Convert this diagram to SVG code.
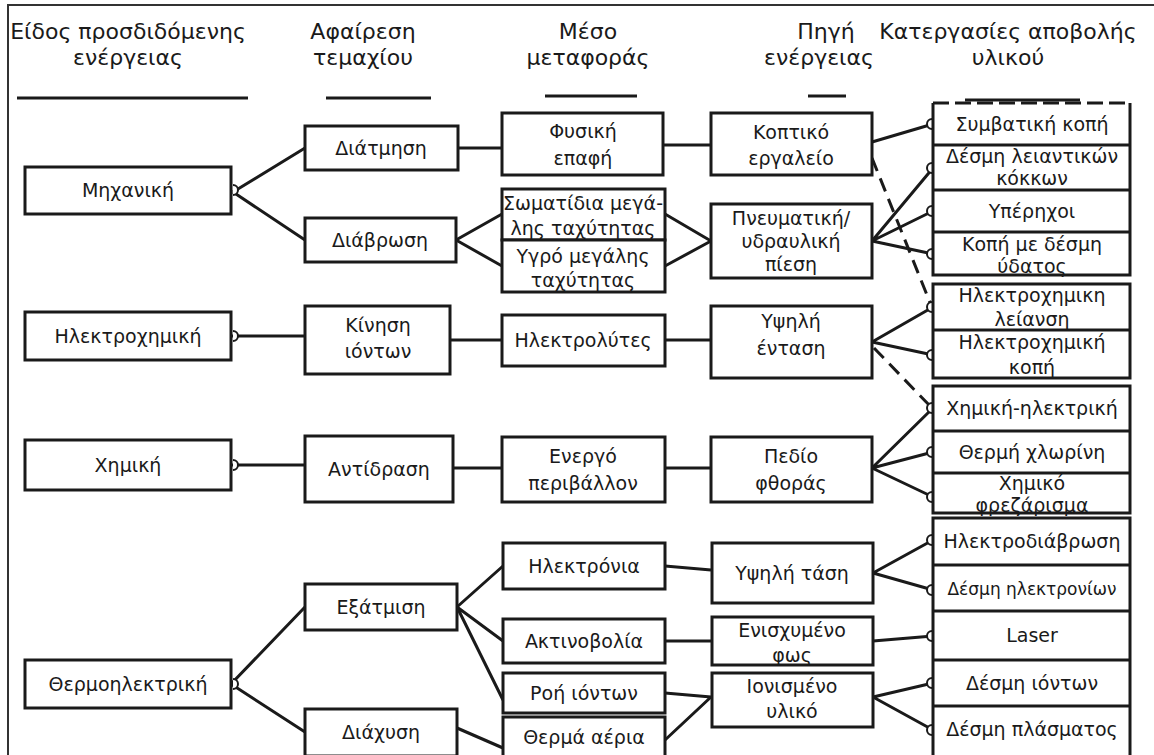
<svg xmlns="http://www.w3.org/2000/svg" width="1154" height="755" viewBox="0 0 1154 755">
<defs>
<style>
.box{fill:#fff;stroke:#1a1a1a;stroke-width:3}
.t{font-family:"DejaVu Sans","Liberation Sans",sans-serif;font-size:19px;fill:#1a1a1a;text-anchor:middle}
.h{font-family:"DejaVu Sans","Liberation Sans",sans-serif;font-size:22px;fill:#1a1a1a;text-anchor:middle}
.c{fill:none;stroke:#1a1a1a;stroke-width:3}
.d{fill:none;stroke:#1a1a1a;stroke-width:3;stroke-dasharray:14 8}
.ul{stroke:#1a1a1a;stroke-width:3}
.cup{fill:#fff;stroke:#1a1a1a;stroke-width:2}
</style>
<path id="cupL" class="cup" d="M0,-5 A5,5 0 0 0 0,5"/>
<path id="cupR" class="cup" d="M0,-5 A5,5 0 0 1 0,5"/>
</defs>
<rect width="1154" height="755" fill="#fff"/>
<g id="frame"><path d="M8,755 V5 H1154" fill="none" stroke="#333" stroke-width="2"/></g>

<g id="headers">
<text class="h" x="128" y="39">Είδος προσδιδόμενης</text>
<text class="h" x="128" y="65">ενέργειας</text>
<line class="ul" x1="17" y1="98" x2="248" y2="98"/>
<text class="h" x="363" y="39">Αφαίρεση</text>
<text class="h" x="363" y="65">τεμαχίου</text>
<line class="ul" x1="326" y1="98" x2="431" y2="98"/>
<text class="h" x="588" y="39">Μέσο</text>
<text class="h" x="588" y="65">μεταφοράς</text>
<line class="ul" x1="545" y1="96" x2="637" y2="96"/>
<text class="h" x="826" y="39">Πηγή</text>
<text class="h" x="819" y="65">ενέργειας</text>
<line class="ul" x1="808" y1="96" x2="846" y2="96"/>
<text class="h" x="1008" y="39">Κατεργασίες αποβολής</text>
<text class="h" x="1008" y="65">υλικού</text>
<line class="ul" x1="965" y1="100" x2="1080" y2="100"/>
</g>

<g id="connectors">
<path class="c" d="M233,192 L305,148 M233,192 L305,240"/>
<path class="c" d="M458,148 L502,148"/>
<path class="c" d="M456,240 L502,214 M456,240 L502,266"/>
<path class="c" d="M663,145 L711,145"/>
<path class="c" d="M665,214 L711,241 M665,266 L711,241"/>
<path class="c" d="M872,142 L933,124"/>
<path class="c" d="M872,241 L933,168 M872,241 L933,211 M872,241 L933,254"/>
<path class="d" d="M872,158 L931,305"/>
<path class="c" d="M231,336 L305,336"/>
<path class="c" d="M450,340 L502,340"/>
<path class="c" d="M665,340 L711,340"/>
<path class="c" d="M872,342 L933,307 M872,342 L933,355"/>
<path class="d" d="M874,348 L931,407"/>
<path class="c" d="M231,465 L305,465"/>
<path class="c" d="M453,468 L502,468"/>
<path class="c" d="M665,468 L711,468"/>
<path class="c" d="M872,468 L933,408 M872,468 L933,452 M872,468 L933,497"/>
<path class="c" d="M231,684 L305,607 M231,684 L305,732"/>
<path class="c" d="M457,607 L503,566 M457,607 L503,641 M457,607 L503,700"/>
<path class="c" d="M457,728 L503,748"/>
<path class="c" d="M665,566 L711,570"/>
<path class="c" d="M665,641 L711,641"/>
<path class="c" d="M665,693 L711,697 M665,740 L711,697"/>
<path class="c" d="M873,573 L933,540 M873,573 L933,590"/>
<path class="c" d="M873,641 L933,636"/>
<path class="c" d="M873,697 L933,683 M873,697 L933,730"/>
<use href="#cupR" x="233" y="190"/>
<use href="#cupR" x="233" y="336"/>
<use href="#cupR" x="233" y="465"/>
<use href="#cupR" x="233" y="684"/>
<use href="#cupL" x="932" y="124"/>
<use href="#cupL" x="932" y="168"/>
<use href="#cupL" x="932" y="211"/>
<use href="#cupL" x="932" y="254"/>
<use href="#cupL" x="932" y="307"/>
<use href="#cupL" x="932" y="355"/>
<use href="#cupL" x="932" y="408"/>
<use href="#cupL" x="932" y="452"/>
<use href="#cupL" x="932" y="497"/>
<use href="#cupL" x="932" y="540"/>
<use href="#cupL" x="932" y="590"/>
<use href="#cupL" x="932" y="636"/>
<use href="#cupL" x="932" y="683"/>
<use href="#cupL" x="932" y="730"/>
</g>

<g id="n-mixaniki"><rect class="box" x="25" y="167" width="206" height="47"/><text class="t" x="128" y="197">Μηχανική</text></g>
<g id="n-ilektroximiki"><rect class="box" x="25" y="312" width="206" height="48"/><text class="t" x="128" y="343">Ηλεκτροχημική</text></g>
<g id="n-ximiki"><rect class="box" x="25" y="440" width="206" height="50"/><text class="t" x="128" y="472">Χημική</text></g>
<g id="n-thermo"><rect class="box" x="25" y="660" width="206" height="48"/><text class="t" x="128" y="691">Θερμοηλεκτρική</text></g>

<g id="n-diatmisi"><rect class="box" x="305" y="126" width="153" height="44"/><text class="t" x="381" y="155">Διάτμηση</text></g>
<g id="n-diavrosi"><rect class="box" x="305" y="218" width="151" height="44"/><text class="t" x="380" y="247">Διάβρωση</text></g>
<g id="n-kinisi"><rect class="box" x="305" y="306" width="145" height="68"/><text class="t" x="378" y="332">Κίνηση</text><text class="t" x="378" y="358">ιόντων</text></g>
<g id="n-antidrasi"><rect class="box" x="305" y="436" width="148" height="66"/><text class="t" x="379" y="476">Αντίδραση</text></g>
<g id="n-exatmisi"><rect class="box" x="305" y="584" width="152" height="46"/><text class="t" x="381" y="614">Εξάτμιση</text></g>
<g id="n-diaxysi"><rect class="box" x="305" y="709" width="152" height="47"/><text class="t" x="381" y="739">Διάχυση</text></g>

<g id="n-fysiki"><rect class="box" x="502" y="113" width="161" height="62"/><text class="t" x="583" y="138">Φυσική</text><text class="t" x="583" y="165">επαφή</text></g>
<g id="n-somatidia"><rect class="box" x="502" y="189" width="163" height="51"/><text class="t" x="583" y="210">Σωματίδια μεγά-</text><text class="t" x="583" y="235">λης ταχύτητας</text></g>
<g id="n-ygro"><rect class="box" x="502" y="240" width="163" height="52"/><text class="t" x="583" y="263">Υγρό μεγάλης</text><text class="t" x="583" y="287">ταχύτητας</text></g>
<g id="n-ilektrolytes"><rect class="box" x="502" y="315" width="163" height="51"/><text class="t" x="583" y="347">Ηλεκτρολύτες</text></g>
<g id="n-energo"><rect class="box" x="502" y="437" width="163" height="65"/><text class="t" x="583" y="463">Ενεργό</text><text class="t" x="583" y="490">περιβάλλον</text></g>
<g id="n-ilektronia"><rect class="box" x="503" y="543" width="162" height="46"/><text class="t" x="584" y="573">Ηλεκτρόνια</text></g>
<g id="n-aktinovolia"><rect class="box" x="503" y="619" width="162" height="44"/><text class="t" x="584" y="648">Ακτινοβολία</text></g>
<g id="n-roi"><rect class="box" x="503" y="673" width="162" height="40"/><text class="t" x="584" y="700">Ροή ιόντων</text></g>
<g id="n-therma"><rect class="box" x="503" y="717" width="162" height="41"/><text class="t" x="584" y="744">Θερμά αέρια</text></g>

<g id="n-koptiko"><rect class="box" x="711" y="113" width="161" height="62"/><text class="t" x="791" y="139">Κοπτικό</text><text class="t" x="791" y="165">εργαλείο</text></g>
<g id="n-pneumatiki"><rect class="box" x="711" y="204" width="161" height="74"/><text class="t" x="791" y="225">Πνευματική/</text><text class="t" x="791" y="248">υδραυλική</text><text class="t" x="791" y="271">πίεση</text></g>
<g id="n-entasi"><rect class="box" x="711" y="306" width="161" height="72"/><text class="t" x="791" y="328">Υψηλή</text><text class="t" x="791" y="355">ένταση</text></g>
<g id="n-pedio"><rect class="box" x="711" y="437" width="161" height="65"/><text class="t" x="791" y="463">Πεδίο</text><text class="t" x="791" y="490">φθοράς</text></g>
<g id="n-tasi"><rect class="box" x="712" y="543" width="161" height="60"/><text class="t" x="792" y="580">Υψηλή τάση</text></g>
<g id="n-fos"><rect class="box" x="712" y="617" width="161" height="48"/><text class="t" x="792" y="637">Ενισχυμένο</text><text class="t" x="792" y="662">φως</text></g>
<g id="n-ionismeno"><rect class="box" x="712" y="673" width="161" height="54"/><text class="t" x="792" y="693">Ιονισμένο</text><text class="t" x="792" y="718">υλικό</text></g>

<g id="group-mech">
<path d="M933,103 H1130" fill="none" stroke="#1a1a1a" stroke-width="3" stroke-dasharray="16 6"/>
<path d="M933,103 V275 H1130 V103" fill="none" stroke="#1a1a1a" stroke-width="3"/>
<g id="n-symvatiki"><path class="c" d="M933,145 H1130"/><text class="t" x="1032" y="131">Συμβατική κοπή</text></g>
<g id="n-leiantikon"><path class="c" d="M933,190 H1130"/><text class="t" x="1032" y="163">Δέσμη λειαντικών</text><text class="t" x="1032" y="185">κόκκων</text></g>
<g id="n-yperixoi"><path class="c" d="M933,232 H1130"/><text class="t" x="1032" y="218">Υπέρηχοι</text></g>
<g id="n-ydatos"><text class="t" x="1032" y="251">Κοπή με δέσμη</text><text class="t" x="1032" y="273">ύδατος</text></g>
</g>

<g id="group-ec">
<rect class="box" x="933" y="284" width="197" height="94"/>
<g id="n-leiansi"><path class="c" d="M933,330 H1130"/><text class="t" x="1032" y="302">Ηλεκτροχημικη</text><text class="t" x="1032" y="326">λείανση</text></g>
<g id="n-ec-kopi"><text class="t" x="1032" y="349">Ηλεκτροχημική</text><text class="t" x="1032" y="374">κοπή</text></g>
</g>

<g id="group-chem">
<rect class="box" x="933" y="386" width="197" height="127"/>
<g id="n-chem-el"><path class="c" d="M933,431 H1130"/><text class="t" x="1032" y="415">Χημική-ηλεκτρική</text></g>
<g id="n-xlorini"><path class="c" d="M933,473 H1130"/><text class="t" x="1032" y="459">Θερμή χλωρίνη</text></g>
<g id="n-frezarisma"><text class="t" x="1032" y="490">Χημικό</text><text class="t" x="1032" y="512">φρεζάρισμα</text></g>
</g>

<g id="group-therm">
<rect class="box" x="933" y="518" width="197" height="240"/>
<g id="n-ilektrodiavrosi"><path class="c" d="M933,565 H1130"/><text class="t" x="1032" y="548">Ηλεκτροδιάβρωση</text></g>
<g id="n-desmi-el"><path class="c" d="M933,611 H1130"/><text class="t" x="1032" y="595" style="font-size:17px">Δέσμη ηλεκτρονίων</text></g>
<g id="n-laser"><path class="c" d="M933,660 H1130"/><text class="t" x="1032" y="642">Laser</text></g>
<g id="n-desmi-ion"><path class="c" d="M933,706 H1130"/><text class="t" x="1032" y="690">Δέσμη ιόντων</text></g>
<g id="n-plasma"><text class="t" x="1032" y="736">Δέσμη πλάσματος</text></g>
</g>
</svg>
